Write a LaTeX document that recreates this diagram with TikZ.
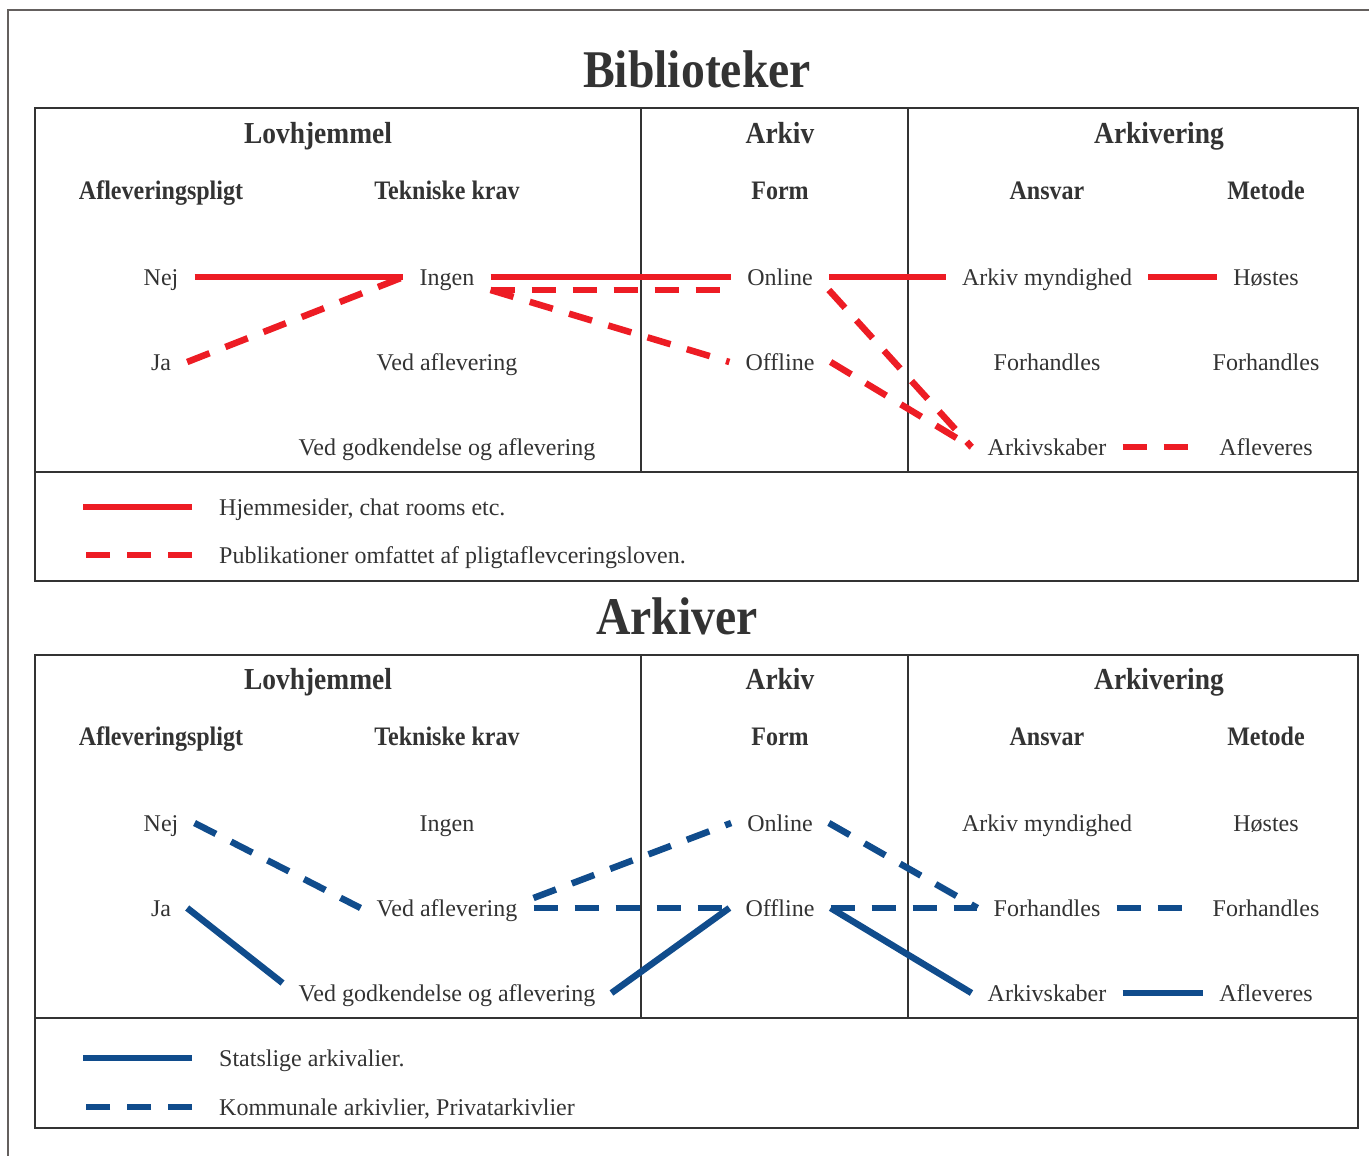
\documentclass[tikz,border=0pt]{standalone}
\usepackage{fontspec}
\setmainfont{Liberation Serif}
\newfontfamily\hdfont{Liberation Serif}[FakeStretch=0.9]
\definecolor{txt}{RGB}{51,51,51}
\definecolor{rd}{RGB}{237,28,36}
\definecolor{bl}{RGB}{16,76,140}
\definecolor{frm}{RGB}{100,96,94}
\begin{document}
\begin{tikzpicture}[x=1pt,y=-1pt,
    lbl/.style={font=\fontsize{24}{28}\selectfont,text=txt,inner xsep=16pt,inner ysep=0pt,text height=16pt,text depth=0pt},
    lgd/.style={lbl,anchor=west,inner xsep=0pt},
    hdA/.style={font=\hdfont\bfseries\fontsize{30.5}{34}\selectfont,text=txt,anchor=base},
    hdB/.style={font=\hdfont\bfseries\fontsize{26.7}{30}\selectfont,text=txt,anchor=base},
    ttl/.style={font=\hdfont\bfseries\fontsize{53}{60}\selectfont,text=txt,anchor=base},
    box/.style={draw=txt,line width=2pt},
    sol/.style={line width=6.5pt},
    dsh/.style={line width=6.5pt,dash pattern=on 24pt off 17pt}]
    \useasboundingbox (0,0) rectangle (1369,1156);
    \draw[frm,line width=2pt] (8,1156)--(8,10)--(1369,10);
    % Biblioteker
    \node[ttl] (ttlB) at (697,88) {Biblioteker};
    \draw[box] (35,108) rectangle (1358,581);
    \draw[box] (35,472)--(1358,472) (641,108)--(641,472) (908,108)--(908,472);
    \node[hdA] (lovB) at (318,143) {Lovhjemmel};
    \node[hdA] (arkB) at (780,143) {Arkiv};
    \node[hdA] (arkvB) at (1159,143) {Arkivering};
    \node[hdB] (aflB) at (161,199) {Afleveringspligt};
    \node[hdB] (tekB) at (447,199) {Tekniske krav};
    \node[hdB] (formB) at (780,199) {Form};
    \node[hdB] (ansB) at (1047,199) {Ansvar};
    \node[hdB] (metB) at (1266,199) {Metode};
    \node[lbl] (nejB) at (161,277) {Nej};
    \node[lbl] (jaB) at (161,362) {Ja};
    \node[lbl] (ingB) at (447,277) {Ingen};
    \node[lbl] (vedB) at (447,362) {Ved aflevering};
    \node[lbl] (godB) at (447,447) {Ved godkendelse og aflevering};
    \node[lbl] (onB) at (780,277) {Online};
    \node[lbl] (offB) at (780,362) {Offline};
    \node[lbl] (myB) at (1047,277) {Arkiv myndighed};
    \node[lbl] (forB) at (1047,362) {Forhandles};
    \node[lbl] (skabB) at (1047,447) {Arkivskaber};
    \node[lbl] (hosB) at (1266,277) {Høstes};
    \node[lbl] (for2B) at (1266,362) {Forhandles};
    \node[lbl] (aflvB) at (1266,447) {Afleveres};
    \draw[rd,sol] (nejB)--(ingB) (ingB)--(onB) (onB)--(myB) (myB)--(hosB);
    \draw[rd,dsh] (jaB.east)--(ingB.west);
    \draw[rd,dsh] ([yshift=-13pt]ingB.east)--([yshift=-13pt,xshift=-8pt]onB.west);
    \draw[rd,dsh] ([yshift=-13pt]ingB.east)--(offB.west);
    \draw[rd,dsh] ([yshift=-13pt]onB.east)--(skabB.west);
    \draw[rd,dsh] (offB.east)--(skabB.west);
    \draw[rd,dsh] (skabB)--(aflvB);
    \node[lgd] (hjem) at (219,507) {Hjemmesider, chat rooms etc.};
    \node[lgd] (publ) at (219,555) {Publikationer omfattet af pligtaflevceringsloven.};
    \draw[rd,sol] ([xshift=-27pt]hjem.west)--++(-109,0);
    \draw[rd,dsh] ([xshift=-27pt]publ.west)--++(-109,0);
    % Arkiver
    \node[ttl] (ttlA) at (677,634) {Arkiver};
    \begin{scope}[yshift=-546pt]
    \draw[box] (35,109) rectangle (1358,582);
    \draw[box] (35,472)--(1358,472) (641,109)--(641,472) (908,109)--(908,472);
    \node[hdA] (lovA) at (318,143) {Lovhjemmel};
    \node[hdA] (arkA) at (780,143) {Arkiv};
    \node[hdA] (arkvA) at (1159,143) {Arkivering};
    \node[hdB] (aflA) at (161,199) {Afleveringspligt};
    \node[hdB] (tekA) at (447,199) {Tekniske krav};
    \node[hdB] (formA) at (780,199) {Form};
    \node[hdB] (ansA) at (1047,199) {Ansvar};
    \node[hdB] (metA) at (1266,199) {Metode};
    \node[lbl] (nejA) at (161,277) {Nej};
    \node[lbl] (jaA) at (161,362) {Ja};
    \node[lbl] (ingA) at (447,277) {Ingen};
    \node[lbl] (vedA) at (447,362) {Ved aflevering};
    \node[lbl] (godA) at (447,447) {Ved godkendelse og aflevering};
    \node[lbl] (onA) at (780,277) {Online};
    \node[lbl] (offA) at (780,362) {Offline};
    \node[lbl] (myA) at (1047,277) {Arkiv myndighed};
    \node[lbl] (forA) at (1047,362) {Forhandles};
    \node[lbl] (skabA) at (1047,447) {Arkivskaber};
    \node[lbl] (hosA) at (1266,277) {Høstes};
    \node[lbl] (for2A) at (1266,362) {Forhandles};
    \node[lbl] (aflvA) at (1266,447) {Afleveres};
    \draw[bl,dsh] (nejA.east)--(vedA.west);
    \draw[bl,sol] (jaA.east)--([yshift=10pt]godA.west);
    \draw[bl,dsh] ([yshift=10pt]vedA.east)--(onA.west);
    \draw[bl,dsh] (vedA)--(offA);
    \draw[bl,sol] (godA.east)--(offA.west);
    \draw[bl,dsh] (onA.east)--(forA.west);
    \draw[bl,dsh] (offA)--(forA);
    \draw[bl,sol] (offA.east)--(skabA.west);
    \draw[bl,dsh] (forA)--(for2A);
    \draw[bl,sol] (skabA)--(aflvA);
    \node[lgd] (stat) at (219,512) {Statslige arkivalier.};
    \node[lgd] (komm) at (219,561) {Kommunale arkivlier, Privatarkivlier};
    \draw[bl,sol] ([xshift=-27pt]stat.west)--++(-109,0);
    \draw[bl,dsh] ([xshift=-27pt]komm.west)--++(-109,0);
    \end{scope}
\end{tikzpicture}
\end{document}
